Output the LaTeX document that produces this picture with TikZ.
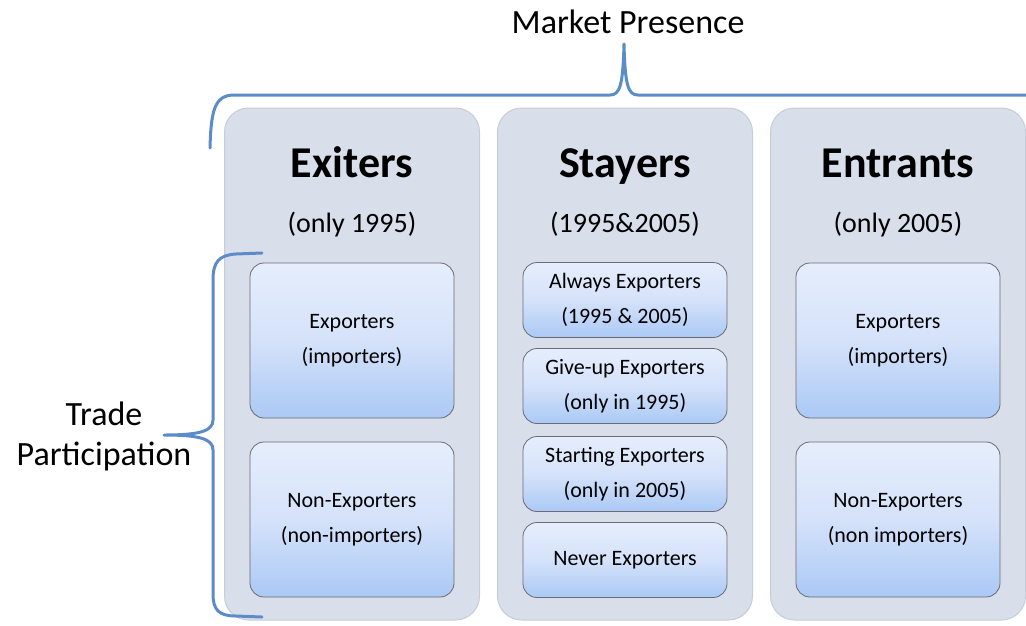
\documentclass[tikz,border=0pt]{standalone}
\usepackage{fontspec}
\setmainfont{Carlito}
\usepackage{tikz}
\usetikzlibrary{shapes,backgrounds,calc}
\definecolor{grau}{rgb}{0.851,0.871,0.922}
\definecolor{grauRand}{rgb}{0.78,0.80,0.85}
\definecolor{hellblau}{rgb}{0.902,0.933,0.988}
\definecolor{mittelblau}{rgb}{0.835,0.886,0.980}
\definecolor{blau}{rgb}{0.667,0.788,0.961}
\definecolor{blauRand}{rgb}{0.42,0.42,0.45}
\definecolor{klammer}{rgb}{0.357,0.549,0.788}
\tikzstyle{segment} = [rectangle,rounded corners=24pt,fill=grau,draw=grauRand,line width=1pt,minimum width=255pt,minimum height=512pt]
\tikzstyle{heading} = [anchor=base,font=\fontsize{44}{50}\selectfont\bfseries]
\tikzstyle{years} = [anchor=base,font=\fontsize{28}{34}\selectfont]
\tikzstyle{part} = [rectangle,rounded corners=14pt,draw=blauRand,line width=0.8pt,top color=hellblau,bottom color=blau,middle color=mittelblau,minimum width=204pt,align=center,font=\fontsize{22}{35}\selectfont]
\tikzstyle{part'} = [part,minimum height=155pt]
\tikzstyle{part''} = [part,minimum height=75pt]
\tikzstyle{curly} = [line width=3pt,draw=klammer,line cap=round,line join=round]

\begin{document}
\begin{tikzpicture}[x=1pt,y=-1pt]
\useasboundingbox (0,0) rectangle (1026,625);

\node[segment] (EX) at (352,364) {};
\node[heading] at (352,177) {Exiters};
\node[years] at (352,232) {(only 1995)};
\node[part'] (EX1) at (352,340.5) {Exporters\\(importers)};
\node[part'] (EX2) at (352,519.5) {Non-Exporters\\(non-importers)};

\node[segment] (ST) at (625,364) {};
\node[heading] at (625,177) {Stayers};
\node[years] at (625,232) {(1995\&2005)};
\node[part''] (ST1) at (625,300) {Always Exporters\\(1995 \& 2005)};
\node[part''] (ST2) at (625,386) {Give-up Exporters\\(only in 1995)};
\node[part''] (ST3) at (625,474) {Starting Exporters\\(only in 2005)};
\node[part''] (ST4) at (625,560) {Never Exporters};

\node[segment] (EN) at (898,364) {};
\node[heading] at (898,177) {Entrants};
\node[years] at (898,232) {(only 2005)};
\node[part'] (EN1) at (898,340.5) {Exporters\\(importers)};
\node[part'] (EN2) at (898,519.5) {Non-Exporters\\(non importers)};

\node[anchor=base,font=\fontsize{34}{40}\selectfont] (MP) at (628,33) {Market Presence};
\node[align=center,font=\fontsize{34}{40}\selectfont] (TP) at (104,436) {Trade\\Participation};

\draw[curly] (210,148) .. controls (211,112) and (214,95) .. (234,95) -- (610,95) .. controls (620,95) and (623,85) .. (624,44) .. controls (625,85) and (628,95) .. (638,95) -- (1030,95);
\draw[curly] (262,253) -- (236,254) .. controls (219,255) and (213,262) .. (213,280) -- (213,420) .. controls (213,431) and (200,435) .. (164,435) .. controls (200,435) and (213,439) .. (213,450) -- (213,594) .. controls (213,610) and (219,616) .. (236,616) -- (262,617);
\end{tikzpicture}
\end{document}
